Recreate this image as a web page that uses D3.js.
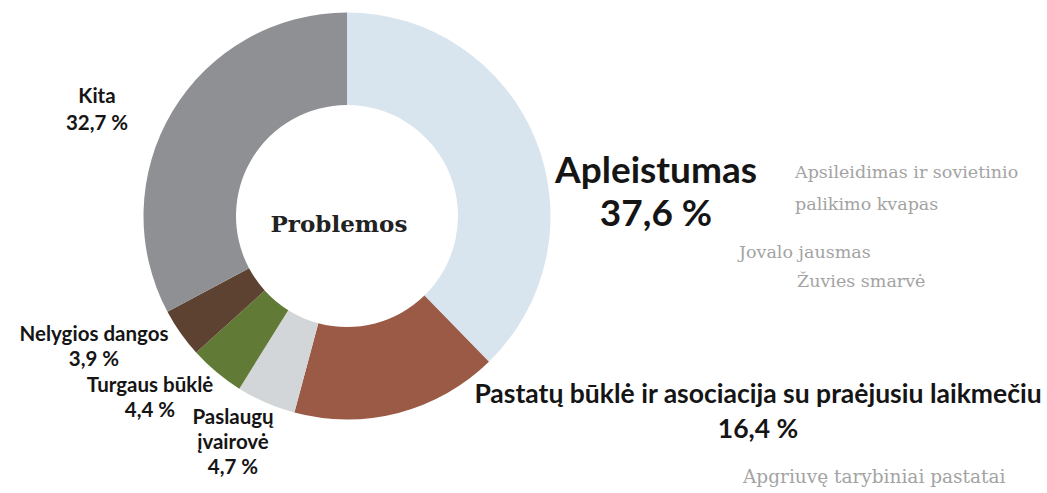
<!DOCTYPE html>
<html>
<head>
<meta charset="utf-8">
<script src="https://cdn.jsdelivr.net/npm/d3@7"></script>
<style>
  html, body { margin: 0; padding: 0; background: #ffffff; }
  svg { display: block; }
</style>
</head>
<body>
<svg id="chart" width="1047" height="493"></svg>
<script>
// ---- data ----
const categories = ["Apleistumas", "Pastatų būklė ir asociacija su praėjusiu laikmečiu", "Paslaugų įvairovė", "Turgaus būklė", "Nelygios dangos", "Kita"];
const values = [37.6, 16.4, 4.7, 4.4, 3.9, 32.7];
const colors = ["#d9e5ee", "#9a5a46", "#d3d6d9", "#617a36", "#5d4131", "#8f9094"];
const centerTitle = "Problemos";
const quotesApleistumas = [["Apsileidimas ir sovietinio", "palikimo kvapas"], ["Jovalo jausmas"], ["Žuvies smarvė"]];
const quotesPastatu = [["Apgriuvę tarybiniai pastatai"]];

// ---- layout ----
const cx = 347, cy = 216, rOuter = 203.5, rInner = 111;
const svg = d3.select("#chart");
const sans = "Lato, 'Noto Sans', sans-serif";
const serif = "'DejaVu Serif', serif";
const fmt = v => d3.format(".1f")(v).replace(".", ",") + " %";

const pie = d3.pie().sort(null).value(d => d.v).startAngle(0).endAngle(2 * Math.PI);
const arc = d3.arc().innerRadius(rInner).outerRadius(rOuter);
const data = categories.map((c, i) => ({ c, v: values[i], col: colors[i] }));

const g = svg.append("g").attr("transform", `translate(${cx},${cy})`);
g.selectAll("path").data(pie(data)).join("path")
  .attr("d", arc)
  .attr("fill", d => d.data.col);

g.append("text").text(centerTitle)
  .attr("x", -8).attr("y", 16)
  .attr("text-anchor", "middle")
  .attr("font-family", "'DejaVu Serif', serif")
  .attr("font-weight", "bold")
  .attr("font-size", 23)
  .attr("fill", "#222");

// label layout: x, baseline y of first line, font size, line height, lines of category name
const labelLayout = [
  { x: 656, y: 183, fs: 37, lh: 43, lines: ["Apleistumas"] },
  { x: 758, y: 403, fs: 26.5, lh: 35, lines: ["Pastatų būklė ir asociacija su praėjusiu laikmečiu"] },
  { x: 233, y: 424, fs: 20.5, lh: 25, lines: ["Paslaugų", "įvairovė"] },
  { x: 150, y: 392, fs: 20.5, lh: 25, lines: ["Turgaus būklė"] },
  { x: 94, y: 341, fs: 20.5, lh: 25, lines: ["Nelygios dangos"] },
  { x: 97, y: 103, fs: 20.5, lh: 27, lines: ["Kita"] }
];

data.forEach((d, i) => {
  const L = labelLayout[i];
  const t = svg.append("text")
    .attr("text-anchor", "middle")
    .attr("font-family", sans)
    .attr("font-weight", "bold")
    .attr("font-size", L.fs)
    .attr("fill", "#151515");
  const lines = L.lines.concat([fmt(d.v)]);
  lines.forEach((ln, k) => {
    t.append("tspan").attr("x", L.x).attr("y", L.y + k * L.lh).text(ln);
  });
});

// quotes (gray serif)
const quoteLayout = [
  { x: 795, y: 178, lh: 32 },
  { x: 739, y: 258, lh: 30 },
  { x: 797, y: 287, lh: 30 }
];
quotesApleistumas.forEach((q, i) => {
  const L = quoteLayout[i];
  const t = svg.append("text")
    .attr("font-family", serif).attr("font-size", 17.5).attr("fill", "#a3a3a3");
  q.forEach((ln, k) => t.append("tspan").attr("x", L.x).attr("y", L.y + k * L.lh).text(ln));
});
quotesPastatu.forEach((q) => {
  svg.append("text")
    .attr("font-family", serif).attr("font-size", 18.5).attr("fill", "#a3a3a3")
    .attr("x", 743).attr("y", 483).text(q[0]);
});
</script>
</body>
</html>
